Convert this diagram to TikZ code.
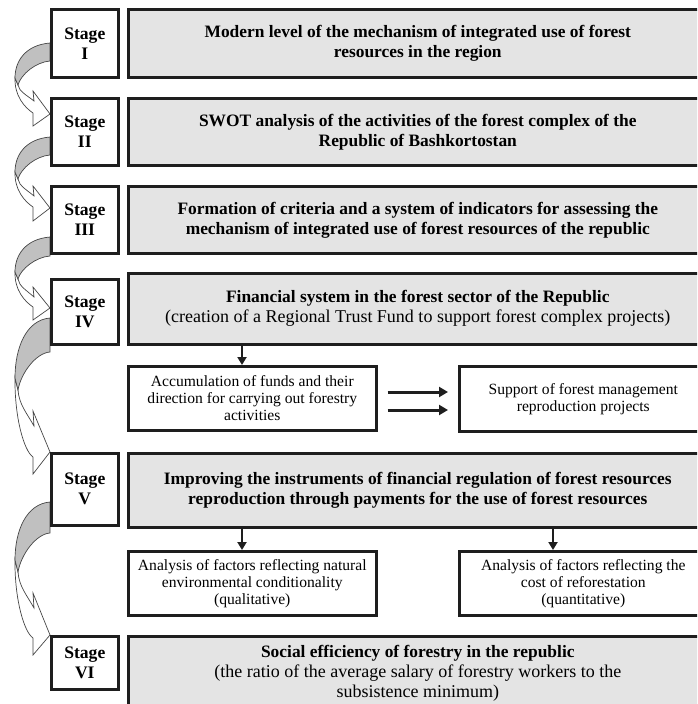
\documentclass[tikz,border=0pt]{standalone}
\usepackage{fontspec}
\setmainfont{Liberation Serif}
\usetikzlibrary{arrows.meta}
\definecolor{boxgray}{RGB}{228,228,228}
\definecolor{boxline}{RGB}{30,30,30}
\definecolor{arrgray}{RGB}{192,192,192}
\definecolor{arrline}{RGB}{70,70,70}
\newcommand{\regtext}{\fontsize{18}{20}\selectfont\mdseries}
% yA yB yP yP2 yU yI yT yO yL
\newcommand{\bendarrow}[9]{%
  \filldraw[fill=white, draw=arrline, line width=0.7pt, line join=miter]
    (15,#3) .. controls (14.5,{#3+0.5*(#8-#3)}) and (24,{#8-6}) .. (33,#8)
    -- (33,#9) -- (50,#7) -- (33,#5) -- (34,#6)
    .. controls (27,{#6-0.35*(#6-#4)}) and (19,{#4+0.4*(#6-#4)}) .. (18,#4) -- cycle;
  \filldraw[fill=arrgray, draw=arrline, line width=0.7pt]
    (50,#1) .. controls (26,{#1+2}) and (15,{#1+0.5*(#3-#1)}) .. (15,#3)
    -- (18,#4) .. controls (21,{#4-0.45*(#4-#2)}) and (36,{#2+1}) .. (50,#2) -- cycle;
}
\begin{document}
\begin{tikzpicture}[x=1pt,y=-1pt,
  mainbox/.style={draw=boxline, line width=2.6pt, fill=boxgray, anchor=north west,
    align=center, inner sep=0pt, font=\fontsize{17.4}{20}\selectfont\bfseries},
  stagebox/.style={draw=boxline, line width=2.6pt, fill=white, anchor=north west,
    minimum width=67pt, align=center, inner sep=0pt,
    font=\fontsize{17.6}{20}\selectfont\bfseries},
  subbox/.style={draw=boxline, line width=2.6pt, fill=white, anchor=north west,
    align=center, inner sep=0pt, font=\fontsize{15.6}{17}\selectfont},
  downarr/.style={draw=boxline, line width=2.4pt, -{Triangle[length=8pt,width=9pt]}},
  sidearr/.style={draw=boxline, line width=3pt, -{Triangle[length=9pt,width=10pt]},
    shorten <=10pt, shorten >=10pt}
]
\useasboundingbox (0,0) rectangle (697,704);
\clip (0,0) rectangle (697,704);

% curved stage-to-stage arrows
\bendarrow{43}{61}{78}{85}{91}{101}{114}{113}{126}
\bendarrow{137}{155}{172}{179}{186}{196}{208}{207}{221}
\bendarrow{237}{256}{272}{279}{287}{297}{308}{307}{320}
\bendarrow{318}{352}{378}{390}{411}{426}{452}{457}{474}
\bendarrow{502}{533}{560}{572}{593}{608}{635}{638}{655}

% stage boxes
\node[stagebox, minimum height=68pt] (st1) at (50,8) {Stage\\I};
\node[stagebox, minimum height=67pt] (st2) at (50,97) {Stage\\II};
\node[stagebox, minimum height=67pt] (st3) at (50,185) {Stage\\III};
\node[stagebox, minimum height=65pt] (st4) at (50,278) {Stage\\IV};
\node[stagebox, minimum height=72pt] (st5) at (50,452) {Stage\\V};
\node[stagebox, minimum height=53pt] (st6) at (50,635) {Stage\\VI};

% main boxes
\node[mainbox, minimum width=579pt, minimum height=68pt] (m1) at (127,8)
  {Modern level of the mechanism of integrated use of forest\\resources in the region};
\node[mainbox, minimum width=579pt, minimum height=67pt] (m2) at (127,97)
  {SWOT analysis of the activities of the forest complex of the\\Republic of Bashkortostan};
\node[mainbox, minimum width=579pt, minimum height=67pt] (m3) at (127,185)
  {Formation of criteria and a system of indicators for assessing the\\mechanism of integrated use of forest resources of the republic};
\node[mainbox, minimum width=579pt, minimum height=71pt] (m4) at (127,272)
  {Financial system in the forest sector of the Republic\\
   \regtext (creation of a Regional Trust Fund to support forest complex projects)};
\node[mainbox, minimum width=579pt, minimum height=74pt] (m5) at (127,452)
  {Improving the instruments of financial regulation of forest resources\\
   reproduction through payments for the use of forest resources};
\node[mainbox, minimum width=579pt, minimum height=74pt] (m6) at (127,635)
  {Social efficiency of forestry in the republic\\
   \regtext (the ratio of the average salary of forestry workers to the\\
   \regtext subsistence minimum)};

% sub boxes
\node[subbox, minimum width=248pt, minimum height=64pt] (s4a) at (127,365)
  {Accumulation of funds and their\\direction for carrying out forestry\\activities};
\node[subbox, minimum width=248pt, minimum height=65pt] (s4b) at (458,365)
  {Support of forest management\\reproduction projects};
\node[subbox, minimum width=248pt, minimum height=64pt] (s5a) at (127,550)
  {Analysis of factors reflecting natural\\environmental conditionality\\(qualitative)};
\node[subbox, minimum width=248pt, minimum height=64pt] (s5b) at (458,550)
  {Analysis of factors reflecting the\\cost of reforestation\\(quantitative)};

% connectors
\coordinate (c4) at (242,0);
\coordinate (c5a) at (242,0);
\coordinate (c5b) at (553,0);
\coordinate (d1) at (0,392);
\coordinate (d2) at (0,410);
\draw[downarr] (m4.south -| c4) -- (s4a.north -| c4);
\draw[sidearr] (s4a.east |- d1) -- (s4b.west |- d1);
\draw[sidearr] (s4a.east |- d2) -- (s4b.west |- d2);
\draw[downarr] (m5.south -| c5a) -- (s5a.north -| c5a);
\draw[downarr] (m5.south -| c5b) -- (s5b.north -| c5b);
\end{tikzpicture}
\end{document}
